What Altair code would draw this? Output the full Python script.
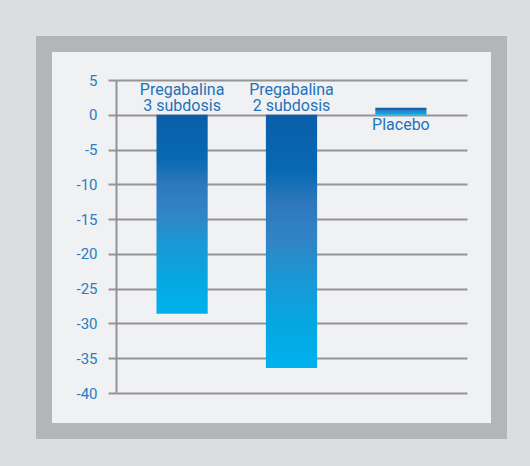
import altair as alt
import pandas as pd

# Mean change from baseline per treatment arm
groups = ["Pregabalina 3 subdosis", "Pregabalina 2 subdosis", "Placebo"]
label_lines = ["Pregabalina\n3 subdosis", "Pregabalina\n2 subdosis", "Placebo"]
change = [-28.6, -36.4, 1.0]
y_ticks = [5, 0, -5, -10, -15, -20, -25, -30, -35, -40]

df = pd.DataFrame({"grupo": groups, "etiqueta": label_lines, "cambio": change})

BLUE_TEXT = "#1f72b9"
GRID = "#939496"
LINE_HEIGHT = 16

bar_fill = alt.Gradient(
    gradient="linear", x1=0, y1=0, x2=0, y2=1,
    stops=[
        alt.GradientStop(color="#0b5ea9", offset=0),
        alt.GradientStop(color="#0769b3", offset=0.22),
        alt.GradientStop(color="#2e78be", offset=0.35),
        alt.GradientStop(color="#3085c5", offset=0.5),
        alt.GradientStop(color="#1a98d5", offset=0.65),
        alt.GradientStop(color="#06a7e1", offset=0.82),
        alt.GradientStop(color="#00b1ed", offset=1),
    ],
)

x_enc = alt.X(
    "grupo:N", sort=groups, axis=None,
    scale=alt.Scale(range=[72, 423], paddingInner=0.532, paddingOuter=0.37),
)
y_scale = alt.Scale(domain=[-40, 5], range=[349, 36], nice=False)

bars = alt.Chart(df).mark_bar(fill=bar_fill).encode(
    x=x_enc,
    y=alt.Y(
        "cambio:Q", scale=y_scale, title=None,
        axis=alt.Axis(values=y_ticks, offset=-72, grid=True, labelPadding=11,
                      labelExpr="'' + datum.value"),
    ),
)

text_style = dict(font="Roboto", fontSize=16, lineHeight=LINE_HEIGHT, color=BLUE_TEXT,
                  lineBreak="\n", align="center")

# Two-line labels sitting just above the zero line for the negative bars
neg_labels = alt.Chart(df).transform_filter("datum.cambio < 0").mark_text(
    baseline="bottom", dy=-1 - LINE_HEIGHT, **text_style
).encode(x=x_enc, y=alt.datum(0), text="etiqueta:N")

# Label just below the zero line for the positive bar
pos_labels = alt.Chart(df).transform_filter("datum.cambio >= 0").mark_text(
    baseline="top", dy=2, **text_style
).encode(x=x_enc, y=alt.datum(0), text="etiqueta:N")

chart = alt.layer(bars, neg_labels, pos_labels).properties(
    width=455,
    height=387,
    autosize=alt.AutoSizeParams(type="none"),
    padding={"left": 44, "top": 44, "right": 31, "bottom": 35},
    background="#dcdde0",
).configure_view(
    fill="#f0f1f3", stroke="#b4b5b8", strokeWidth=16,
).configure_axis(
    labelFont="Roboto", labelFontSize=15, labelColor="#2b7cc0",
    domainColor=GRID, domainWidth=2,
    tickColor=GRID, tickWidth=2, tickSize=8,
    gridColor=GRID, gridWidth=2, gridOpacity=1,
)

chart.save("out.html", embed_options={"renderer": "svg", "actions": False})
